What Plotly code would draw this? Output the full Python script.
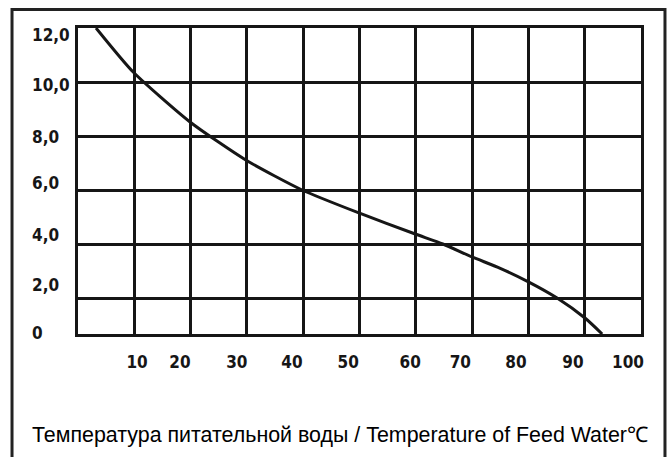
import plotly.graph_objects as go

# Curve: feed water temperature vs value
temperature = [3.2, 9.8, 19.9, 29.8, 39.8, 49.9, 59.9, 64.8, 70.0, 75.0, 80.0, 85.1, 90.1, 93.1]
value = [12.0, 10.37, 8.52, 7.11, 6.0, 5.15, 4.37, 4.0, 3.52, 3.1, 2.6, 2.0, 1.25, 0.667]

# x tick labels and where they sit
x_tick_text = ["10", "20", "30", "40", "50", "60", "70", "80", "90", "100"]
x_tick_pos = [10.5, 18.1, 28.2, 38.0, 48.0, 59.0, 67.9, 77.8, 87.9, 97.7]

# y tick labels and where they sit
y_tick_text = ["12,0", "10,0", "8,0", "6,0", "4,0", "2,0", "0"]
y_tick_pos = [11.74, 9.89, 7.96, 6.26, 4.33, 2.48, 0.70]

# grid lines
x_grid = [0, 10, 20, 30, 40, 50, 60, 70, 80, 90, 100]
y_grid = [2, 4, 6, 8, 10, 12]

title_text = "Температура питательной воды / Temperature of Feed Water℃"

INK = "#161616"
COND = "DejaVu Sans Condensed, DejaVu Sans, sans-serif"

fig = go.Figure()
fig.add_trace(go.Scatter(
    x=temperature, y=value, mode="lines",
    line=dict(color=INK, width=3, shape="spline", smoothing=0.6),
    hoverinfo="skip", showlegend=False,
))

fig.update_layout(
    width=670, height=457,
    margin=dict(l=78, r=29, t=28, b=123),
    paper_bgcolor="white", plot_bgcolor="white",
    showlegend=False,
    xaxis=dict(
        range=[0, 100], showgrid=False, zeroline=False, automargin=False,
        showline=True, mirror=True, linecolor=INK, linewidth=3,
        tickmode="array", tickvals=x_tick_pos, ticktext=x_tick_text,
        ticks="outside", ticklen=11, tickcolor="rgba(0,0,0,0)",
        tickfont=dict(family=COND, size=17, color=INK, weight="bold"),
        minor=dict(tickmode="array", tickvals=x_grid, showgrid=True,
                   gridcolor=INK, gridwidth=3, ticks=""),
    ),
    yaxis=dict(
        range=[0.667, 12], zeroline=False, automargin=False,
        showline=True, mirror=True, linecolor=INK, linewidth=3,
        tickmode="array", tickvals=y_grid, showticklabels=False, ticks="",
        showgrid=True, gridcolor=INK, gridwidth=3,
    ),
)

for txt, pos in zip(y_tick_text, y_tick_pos):
    fig.add_annotation(
        x=-0.0853, xref="paper", xanchor="left",
        y=pos, yref="y", yanchor="middle",
        text=txt, showarrow=False,
        font=dict(family=COND, size=17, color=INK, weight="bold"),
    )

fig.add_annotation(
    x=0.4645, xref="paper", xanchor="center",
    y=-0.33, yref="paper", yanchor="middle",
    text=title_text, showarrow=False,
    font=dict(family="Liberation Sans, Arial, sans-serif", size=21.4, color="black"),
)

# outer frame
fig.add_shape(type="rect", xref="paper", yref="paper",
              x0=-0.1172, x1=1.0426, y0=-0.44, y1=1.0605,
              line=dict(color="#222222", width=3), fillcolor="rgba(0,0,0,0)", layer="above")

fig.write_html("out.html",
               config={"displayModeBar": False},
               post_script="document.body.style.margin='0';document.body.style.overflow='hidden';")
